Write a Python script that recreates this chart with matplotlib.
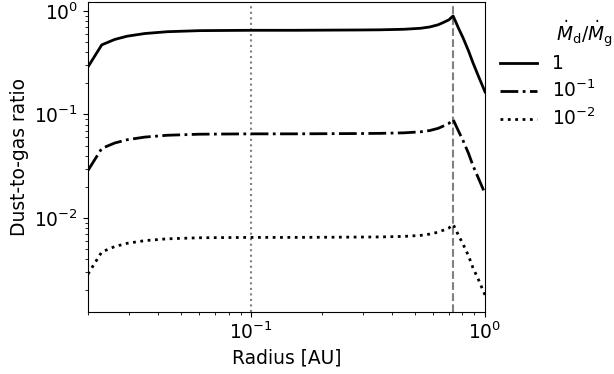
import matplotlib
matplotlib.use('Agg')
import matplotlib.pyplot as plt
import numpy as np

# radius in AU
radius = [0.020, 0.0229, 0.026, 0.0294, 0.035, 0.0437, 0.060, 0.080,
          0.10, 0.15, 0.20, 0.30, 0.354, 0.45, 0.53, 0.58, 0.63, 0.66, 0.70, 0.73,
          0.77, 0.805, 0.85, 0.888, 0.94, 1.0]

# dust-to-gas ratio for the three mass-flux ratios
ratio_1 = [0.288, 0.47, 0.53, 0.57, 0.605, 0.63, 0.645, 0.648,
           0.65, 0.65, 0.652, 0.655, 0.657, 0.665, 0.68, 0.70, 0.735, 0.77, 0.82, 0.895,
           0.68, 0.55, 0.41, 0.315, 0.23, 0.165]
ratio_01 = [0.0288, 0.047, 0.053, 0.057, 0.0605, 0.063, 0.0645, 0.0648,
            0.065, 0.065, 0.0652, 0.0655, 0.0657, 0.0665, 0.068, 0.070, 0.0735, 0.077, 0.082, 0.0895,
            0.069, 0.056, 0.042, 0.032, 0.0238, 0.0172]
ratio_001 = [0.00288, 0.0047, 0.0053, 0.0057, 0.00605, 0.0063, 0.00645, 0.00648,
             0.0065, 0.0065, 0.00652, 0.00655, 0.00657, 0.00665, 0.0068, 0.0070, 0.0073, 0.0076, 0.0080, 0.0087,
             0.0068, 0.0056, 0.0043, 0.0033, 0.0025, 0.0018]

labels = ['1', r'$10^{-1}$', r'$10^{-2}$']
legend_title = r'$\dot{M}_\mathrm{d}/\dot{M}_\mathrm{g}$'
r_inner = 0.1
r_outer = 0.73

plt.rcParams['font.size'] = 13.4

fig = plt.figure(figsize=(6.14, 3.74), dpi=100)
ax = fig.add_axes([0.1433, 0.166, 0.6467, 0.8287])

ax.axvline(r_inner, color='gray', ls=':', lw=1.5)
ax.axvline(r_outer, color='gray', ls='--', lw=1.5)

ax.plot(radius, ratio_1, 'k-', lw=2, label=labels[0])
ax.plot(radius, ratio_01, 'k-.', lw=2, label=labels[1])
ax.plot(radius, ratio_001, 'k:', lw=2, label=labels[2])

ax.set_xscale('log')
ax.set_yscale('log')
ax.set_xlim(0.02, 1.0)
ax.set_ylim(1.24e-3, 1.22)

ax.set_xlabel('Radius [AU]')
ax.set_ylabel('Dust-to-gas ratio')

# legend title sits right of the entries in the original
ax.legend(frameon=False, loc='upper left', borderaxespad=0, labelspacing=0.35,
          bbox_to_anchor=(492.5 / 614, 1 - 47 / 374), bbox_transform=fig.transFigure)
fig.text(584 / 614, 1 - 34 / 374, legend_title, ha='center', va='center')

fig.savefig('out.png', dpi=100)
